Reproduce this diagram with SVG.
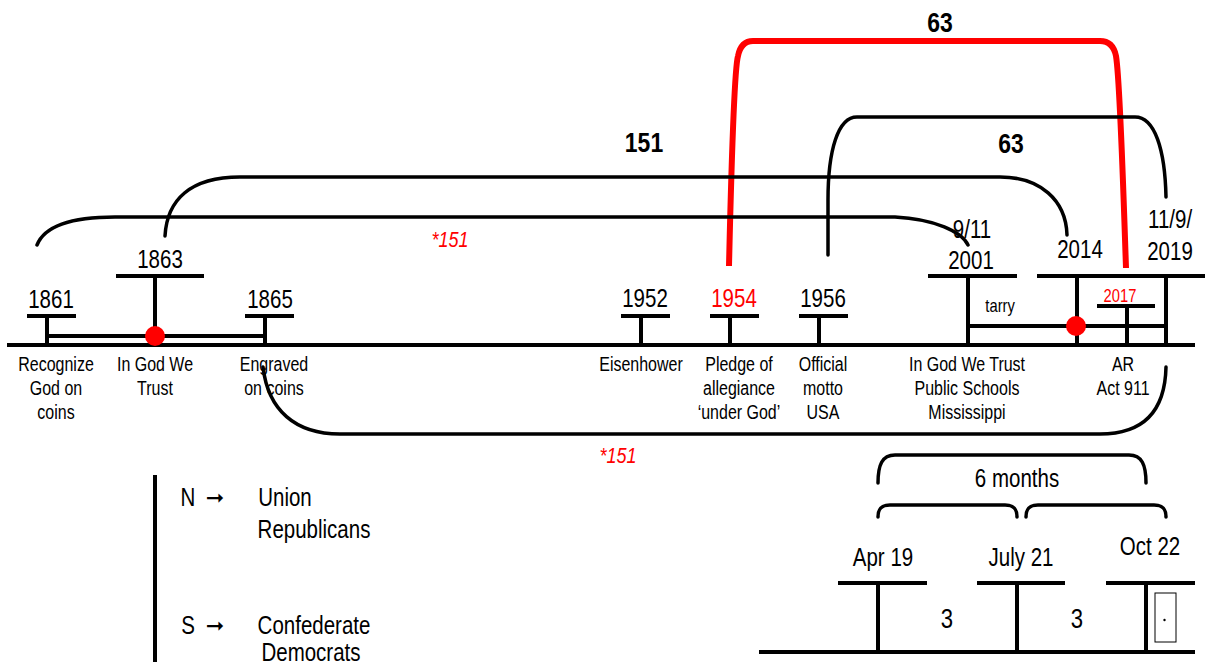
<svg xmlns="http://www.w3.org/2000/svg" width="1205" height="666" viewBox="0 0 1205 666">
<style>
text{font-family:"Liberation Sans Narrow","Arial Narrow","Liberation Sans",sans-serif;fill:#000;text-anchor:middle;transform-box:fill-box;transform-origin:center;transform:scaleX(0.82)}
.date{font-size:25px}
.lbl{font-size:19.5px}
.big{font-size:28px;font-weight:bold}
.ital{font-size:22px;font-style:italic;fill:#ff0000}
.leg{font-size:25px}
.arr{font-family:"DejaVu Sans",sans-serif;font-size:22px;transform:none}
.red{fill:#ff0000}
.ln{stroke:#000;stroke-width:4;fill:none}
.cv{stroke:#000;stroke-width:3.5;fill:none;stroke-linecap:round}
</style>
<rect width="1205" height="666" fill="#fff"/>
<g id="timeline">
<line class="ln" x1="7" y1="345" x2="1195" y2="345"/>
<line class="ln" x1="47" y1="336" x2="265" y2="336"/>
<line class="ln" x1="968" y1="326" x2="1166" y2="326"/>
</g>
<g id="n1861"><line class="ln" x1="27" y1="316" x2="76" y2="316"/><line class="ln" x1="47" y1="316" x2="47" y2="345"/><text class="date" x="51" y="308">1861</text>
<text class="lbl" x="56" y="371">Recognize</text><text class="lbl" x="56" y="395">God on</text><text class="lbl" x="56" y="419">coins</text></g>
<g id="n1863"><line class="ln" x1="116" y1="276" x2="204" y2="276"/><line class="ln" x1="155" y1="276" x2="155" y2="336"/><circle cx="155" cy="336" r="10" fill="#ff0000"/><text class="date" x="160" y="268">1863</text>
<text class="lbl" x="155" y="371">In God We</text><text class="lbl" x="155" y="395">Trust</text></g>
<g id="n1865"><line class="ln" x1="245" y1="316" x2="294" y2="316"/><line class="ln" x1="265" y1="316" x2="265" y2="345"/><text class="date" x="270" y="308">1865</text>
<text class="lbl" x="274" y="371">Engraved</text><text class="lbl" x="274" y="395">on coins</text></g>
<g id="n1952"><line class="ln" x1="621" y1="316" x2="670" y2="316"/><line class="ln" x1="641" y1="316" x2="641" y2="345"/><text class="date" x="645" y="307">1952</text>
<text class="lbl" x="641" y="371">Eisenhower</text></g>
<g id="n1954"><line class="ln" x1="710" y1="316" x2="759" y2="316"/><line class="ln" x1="730" y1="316" x2="730" y2="345"/><text class="date red" x="734" y="307">1954</text>
<text class="lbl" x="739" y="371">Pledge of</text><text class="lbl" x="739" y="395">allegiance</text><text class="lbl" x="739" y="419">‘under God’</text></g>
<g id="n1956"><line class="ln" x1="799" y1="316" x2="848" y2="316"/><line class="ln" x1="819" y1="316" x2="819" y2="345"/><text class="date" x="823" y="307">1956</text>
<text class="lbl" x="823" y="371">Official</text><text class="lbl" x="823" y="395">motto</text><text class="lbl" x="823" y="419">USA</text></g>
<g id="n2001"><line class="ln" x1="928" y1="276" x2="1017" y2="276"/><line class="ln" x1="968" y1="276" x2="968" y2="345"/><text class="date" x="972" y="238">9/11</text><text class="date" x="971" y="269">2001</text>
<text class="lbl" x="967" y="371">In God We Trust</text><text class="lbl" x="967" y="395">Public Schools</text><text class="lbl" x="967" y="419">Mississippi</text>
<text x="1000" y="312" style="font-size:18px">tarry</text></g>
<g id="n2014"><line class="ln" x1="1037" y1="276" x2="1126" y2="276"/><line class="ln" x1="1077" y1="276" x2="1077" y2="345"/><circle cx="1076" cy="326" r="10" fill="#ff0000"/><text class="date" x="1080" y="258">2014</text></g>
<g id="n2017"><line class="ln" x1="1097" y1="306" x2="1155" y2="306"/><line class="ln" x1="1127" y1="306" x2="1127" y2="345"/><text class="red" x="1120" y="302" style="font-size:18px">2017</text>
<text class="lbl" x="1123" y="371">AR</text><text class="lbl" x="1123" y="395">Act 911</text></g>
<g id="n2019"><line class="ln" x1="1126" y1="276" x2="1205" y2="276"/><line class="ln" x1="1166" y1="276" x2="1166" y2="345"/><text class="date" x="1170" y="228">11/9/</text><text class="date" x="1170" y="260">2019</text></g>
<g id="connectors">
<path d="M729,266 C731,180 734,70 738,56 Q741,41 753,41 L1100,41 Q1113,41 1116,56 C1120,80 1123,180 1126,268" stroke="#ff0000" stroke-width="6" fill="none"/>
<path class="cv" d="M828,255 L828,200 C828,150 838,117 857,117 L1135,117 C1155,117 1165,150 1166,197"/>
<path class="cv" d="M165,236 C167,200 190,177 240,177 L1000,177 C1040,177 1066,200 1067,235"/>
<path class="cv" d="M37,245 C45,225 75,217 115,217 L895,217 C935,219 962,232 968,245"/>
<path class="cv" d="M263,367 C268,410 295,434 340,434 L1100,434 C1140,434 1165,415 1166,367"/>
<text class="big" x="940" y="32">63</text>
<text class="big" x="1011" y="153">63</text>
<text class="big" x="644" y="152">151</text>
<text class="ital" x="450" y="247">*151</text>
<text class="ital" x="618" y="463">*151</text>
</g>
<g id="legend">
<line x1="155" y1="475" x2="155" y2="662" stroke="#000" stroke-width="4"/>
<text class="leg" x="188" y="506">N</text><text class="arr" x="215" y="505">➞</text>
<text class="leg" x="285" y="506">Union</text><text class="leg" x="314" y="538">Republicans</text>
<text class="leg" x="188" y="634">S</text><text class="arr" x="215" y="633">➞</text>
<text class="leg" x="314" y="634">Confederate</text><text class="leg" x="311" y="661">Democrats</text>
</g>
<g id="inset">
<line class="ln" x1="759" y1="652" x2="1195" y2="652"/>
<g id="apr19"><line class="ln" x1="838" y1="583" x2="927" y2="583"/><line class="ln" x1="878" y1="583" x2="878" y2="652"/><text class="date" x="883" y="566">Apr 19</text></g>
<g id="jul21"><line class="ln" x1="977" y1="583" x2="1065" y2="583"/><line class="ln" x1="1017" y1="583" x2="1017" y2="652"/><text class="date" x="1021" y="566">July 21</text></g>
<g id="oct22"><line class="ln" x1="1106" y1="583" x2="1195" y2="583"/><line class="ln" x1="1146" y1="583" x2="1146" y2="652"/><text class="date" x="1150" y="555">Oct 22</text>
<rect x="1155" y="593" width="21" height="49" fill="none" stroke="#000" stroke-width="1"/><circle cx="1164.5" cy="620" r="1.2" fill="#000"/></g>
<text class="date" x="947" y="628" style="font-size:27px">3</text>
<text class="date" x="1077" y="628" style="font-size:27px">3</text>
<text class="date" x="1017" y="487">6 months</text>
<path class="cv" d="M878,483 C878,465 882,455 895,455 L1129,455 C1142,455 1146,465 1146,483"/>
<path class="cv" d="M878,517 C878,509 881,505 890,505 L1005,505 C1014,505 1017,509 1017,517"/>
<path class="cv" d="M1026,517 C1026,509 1029,505 1038,505 L1154,505 C1163,505 1166,509 1166,517"/>
</g>
</svg>
